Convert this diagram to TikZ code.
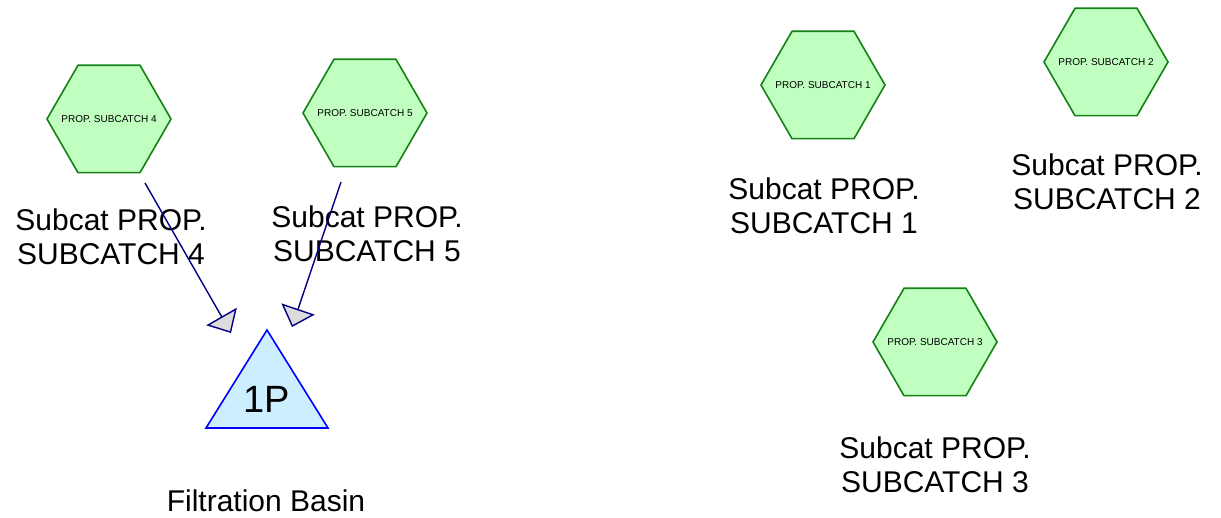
\documentclass[tikz,border=0pt]{standalone}
\usepackage{fontspec}
\setmainfont{Liberation Sans}
\usetikzlibrary{arrows.meta,calc,backgrounds}
\definecolor{catfill}{RGB}{192,255,192}
\definecolor{catline}{RGB}{20,130,20}
\definecolor{basinfill}{RGB}{204,238,255}
\definecolor{basinline}{RGB}{0,0,255}
\definecolor{linkblue}{RGB}{0,0,128}
\definecolor{tipgray}{RGB}{220,220,220}
% flat-topped hexagon of circumradius 62 round a named node
\newcommand\hexround[1]{%
  \draw[hexbody] ($(#1)+(62,0)$) -- ($(#1)+(31,53.7)$) -- ($(#1)+(-31,53.7)$)
    -- ($(#1)+(-62,0)$) -- ($(#1)+(-31,-53.7)$) -- ($(#1)+(31,-53.7)$) -- cycle;}
\begin{document}
\begin{tikzpicture}[x=1pt,y=-1pt,
  subcatch/.style={inner sep=0pt, font=\fontsize{10}{12}\selectfont},
  hexbody/.style={draw=catline, fill=catfill, line width=1.6pt, line join=miter},
  sublabel/.style={align=center, anchor=base, inner sep=0pt,
    font=\fontsize{30}{34}\selectfont},
  link/.style={draw=linkblue, line width=1.4pt,
    -{Triangle[length=19pt,width=35pt,fill=tipgray,line width=1.4pt]}},
  basin/.style={draw=basinline, fill=basinfill, line width=1.6pt, line join=miter},
]
\useasboundingbox (0,0) rectangle (1221,518);

% subcatchments
\node[subcatch] (h4) at (109,119) {PROP. SUBCATCH 4};
\node[subcatch] (h5) at (365,113) {PROP. SUBCATCH 5};
\node[subcatch] (h1) at (823,85)  {PROP. SUBCATCH 1};
\node[subcatch] (h2) at (1106,62) {PROP. SUBCATCH 2};
\node[subcatch] (h3) at (935,342) {PROP. SUBCATCH 3};
\begin{scope}[on background layer]
  \hexround{h4}\hexround{h5}\hexround{h1}\hexround{h2}\hexround{h3}
\end{scope}

% subcatchment captions (base anchor sits on the second line)
\node[sublabel] (l4) at ($(h4)+(2,146)$) {Subcat PROP.\\SUBCATCH 4};
\node[sublabel] (l5) at ($(h5)+(2,149)$) {Subcat PROP.\\SUBCATCH 5};
\node[sublabel] (l1) at ($(h1)+(1,149)$) {Subcat PROP.\\SUBCATCH 1};
\node[sublabel] (l2) at ($(h2)+(1,148)$) {Subcat PROP.\\SUBCATCH 2};
\node[sublabel] (l3) at ($(h3)+(0,150)$) {Subcat PROP.\\SUBCATCH 3};

% filtration basin
\coordinate (ap) at (267,330);
\draw[basin] (ap) -- (328,428) -- (206,428) -- cycle;
\node[anchor=base, inner sep=0pt, font=\fontsize{38}{40}\selectfont] (p1) at (267,413) {1P};
\node[anchor=base, inner sep=0pt, font=\fontsize{30}{34}\selectfont] (fb) at (266,511) {Filtration Basin};

% outflow links
\coordinate (s4) at ($(h4)+(36,64)$);
\coordinate (t4) at ($(ap)+(-36,3)$);
\coordinate (s5) at ($(h5)+(-24,69)$);
\coordinate (t5) at ($(ap)+(25,-3)$);
\draw[link] (s4) -- (t4);
\draw[link] (s5) -- (t5);
\end{tikzpicture}
\end{document}
